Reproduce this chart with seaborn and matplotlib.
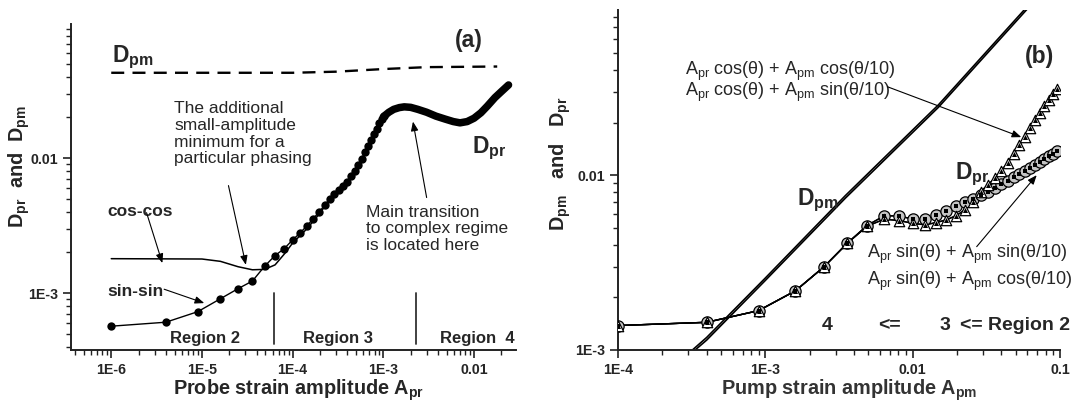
import numpy as np
import pandas as pd
import matplotlib
matplotlib.use("Agg")
import matplotlib.pyplot as plt
from matplotlib.ticker import FixedLocator, FixedFormatter, LogLocator, NullFormatter
import seaborn as sns

# ---------------- data : panel (a) ----------------
probe_sin_x = [1.0e-6, 4.0e-6, 9.0e-6, 1.6e-5, 2.5e-5, 3.6e-5, 4.9e-5, 6.4e-5, 8.1e-5,
               1.0e-4, 1.21e-4, 1.44e-4, 1.69e-4, 1.96e-4, 2.25e-4, 2.56e-4, 2.89e-4,
               3.24e-4, 3.61e-4, 4.0e-4, 4.41e-4, 4.84e-4, 5.29e-4, 5.76e-4, 6.25e-4,
               6.76e-4, 7.29e-4, 7.84e-4, 8.41e-4, 9.0e-4, 9.61e-4, 1.024e-3]
dpr_sin_y = [5.7e-4, 6.1e-4, 7.3e-4, 9.1e-4, 1.08e-3, 1.23e-3, 1.58e-3, 1.9e-3, 2.14e-3,
             2.48e-3, 2.79e-3, 3.16e-3, 3.56e-3, 4.0e-3, 4.46e-3, 5.0e-3, 5.4e-3,
             5.8e-3, 6.2e-3, 6.7e-3, 7.3e-3, 8.0e-3, 8.9e-3, 9.9e-3, 1.1e-2,
             1.22e-2, 1.36e-2, 1.5e-2, 1.65e-2, 1.8e-2, 1.93e-2, 2.04e-2]
probe_dense_x = [1.0e-3, 1.15e-3, 1.3e-3, 1.5e-3, 1.7e-3, 2.0e-3, 2.4e-3, 3.0e-3, 3.8e-3,
                 4.8e-3, 5.9e-3, 7.0e-3, 8.4e-3, 1.0e-2, 1.19e-2, 1.4e-2, 1.7e-2, 2.0e-2, 2.4e-2]
dpr_dense_y = [2.02e-2, 2.18e-2, 2.29e-2, 2.36e-2, 2.39e-2, 2.37e-2, 2.29e-2, 2.18e-2, 2.04e-2,
               1.94e-2, 1.86e-2, 1.82e-2, 1.86e-2, 1.97e-2, 2.16e-2, 2.42e-2, 2.8e-2, 3.1e-2, 3.47e-2]
probe_cos_x = [1.0e-6, 1.0e-5, 1.6e-5, 2.5e-5, 3.6e-5, 4.9e-5, 6.4e-5, 8.1e-5, 1.0e-4,
               1.44e-4, 1.96e-4, 2.56e-4, 3.24e-4]
dpr_cos_y = [1.80e-3, 1.79e-3, 1.72e-3, 1.57e-3, 1.49e-3, 1.50e-3, 1.62e-3, 1.95e-3, 2.35e-3,
             3.0e-3, 3.85e-3, 4.9e-3, 5.8e-3]
probe_dpm_x = [1.0e-6, 1.0e-4, 3.0e-4, 1.0e-3, 3.0e-3, 1.8e-2]
dpm_a_y = [0.0427, 0.0427, 0.0435, 0.0455, 0.047, 0.0475]
region_bounds = [6.3e-5, 2.3e-3]
xticks_a = [1e-6, 1e-5, 1e-4, 1e-3, 1e-2]
xticklabels_a = ["1E-6", "1E-5", "1E-4", "1E-3", "0.01"]
yticks = [1e-3, 1e-2]
yticklabels = ["1E-3", "0.01"]

# ---------------- data : panel (b) ----------------
pump_x = [1.00e-4, 4.00e-4, 9.00e-4, 1.60e-3, 2.50e-3, 3.60e-3, 4.90e-3, 6.40e-3, 8.10e-3,
          1.00e-2, 1.21e-2, 1.44e-2, 1.69e-2, 1.96e-2, 2.25e-2, 2.56e-2, 2.89e-2, 3.24e-2,
          3.61e-2, 4.00e-2, 4.41e-2, 4.84e-2, 5.29e-2, 5.76e-2, 6.25e-2, 6.76e-2, 7.29e-2,
          7.84e-2, 8.41e-2, 9.00e-2, 9.61e-2]
dpr_sinsin = [1.38e-3, 1.44e-3, 1.68e-3, 2.18e-3, 2.99e-3, 4.08e-3, 5.15e-3, 5.85e-3, 5.85e-3,
              5.60e-3, 5.60e-3, 5.90e-3, 6.25e-3, 6.70e-3, 7.05e-3, 7.35e-3, 7.70e-3, 8.05e-3,
              8.45e-3, 8.85e-3, 9.25e-3, 9.70e-3, 1.01e-2, 1.055e-2, 1.10e-2, 1.145e-2, 1.19e-2,
              1.235e-2, 1.28e-2, 1.325e-2, 1.37e-2]
dpr_sincos = [1.38e-3, 1.44e-3, 1.68e-3, 2.18e-3, 2.99e-3, 4.08e-3, 5.15e-3, 5.85e-3, 5.85e-3,
              5.60e-3, 5.60e-3, 5.90e-3, 6.25e-3, 6.70e-3, 7.05e-3, 7.35e-3, 7.70e-3, 8.05e-3,
              8.45e-3, 8.85e-3, 9.25e-3, 9.70e-3, 1.01e-2, 1.055e-2, 1.10e-2, 1.145e-2, 1.19e-2,
              1.235e-2, 1.28e-2, 1.325e-2, 1.37e-2]
dpr_coscos = [1.38e-3, 1.44e-3, 1.68e-3, 2.18e-3, 2.99e-3, 4.08e-3, 5.10e-3, 5.60e-3, 5.50e-3,
              5.30e-3, 5.20e-3, 5.35e-3, 5.55e-3, 5.85e-3, 6.30e-3, 7.05e-3, 8.05e-3, 8.80e-3,
              9.60e-3, 1.06e-2, 1.18e-2, 1.32e-2, 1.48e-2, 1.66e-2, 1.86e-2, 2.06e-2, 2.27e-2,
              2.48e-2, 2.70e-2, 2.90e-2, 3.10e-2]
dpr_cossin = [1.38e-3, 1.44e-3, 1.68e-3, 2.18e-3, 2.99e-3, 4.08e-3, 5.10e-3, 5.60e-3, 5.50e-3,
              5.30e-3, 5.20e-3, 5.35e-3, 5.55e-3, 5.85e-3, 6.30e-3, 7.05e-3, 8.05e-3, 8.80e-3,
              9.60e-3, 1.06e-2, 1.18e-2, 1.32e-2, 1.48e-2, 1.66e-2, 1.86e-2, 2.06e-2, 2.27e-2,
              2.48e-2, 2.70e-2, 2.90e-2, 3.10e-2]
pump_dpm_x = [3.2e-4, 4.0e-4, 1.0e-3, 3.5e-3, 1.5e-2, 6.2e-2, 1.0e-1]
dpm_b_1 = [0.97e-3, 1.14e-3, 2.5e-3, 7.4e-3, 2.45e-2, 9.2e-2, 1.4e-1]
dpm_b_2 = [1.00e-3, 1.18e-3, 2.58e-3, 7.65e-3, 2.53e-2, 9.5e-2, 1.45e-1]
xticks_b = [1e-4, 1e-3, 1e-2, 1e-1]
xticklabels_b = ["1E-4", "1E-3", "0.01", "0.1"]

# ---------------- style ----------------
sns.set_style("ticks")
plt.rcParams["font.family"] = ["Liberation Sans", "DejaVu Sans"]
plt.rcParams["mathtext.fontset"] = "custom"
plt.rcParams["mathtext.rm"] = "Liberation Sans"
plt.rcParams["mathtext.it"] = "Liberation Sans:italic"
plt.rcParams["mathtext.bf"] = "Liberation Sans:bold"

W, H = 1071, 403
fig = plt.figure(figsize=(W / 100, H / 100), dpi=100)
fig.patch.set_facecolor("white")

A_L, A_R, A_T, A_B = 71, 516, 24, 350
B_L, B_R, B_T, B_B = 618, 1060, 10, 350
axA = fig.add_axes([A_L / W, 1 - A_B / H, (A_R - A_L) / W, (A_B - A_T) / H])
axB = fig.add_axes([B_L / W, 1 - B_B / H, (B_R - B_L) / W, (B_B - B_T) / H])


def style_axis(ax, xt, xtl):
    ax.set_xscale("log")
    ax.set_yscale("log")
    ax.set_facecolor("white")
    for s in ["top", "right"]:
        ax.spines[s].set_visible(False)
    for s in ["left", "bottom"]:
        ax.spines[s].set_linewidth(1.4)
        ax.spines[s].set_color("#222222")
    ax.xaxis.set_major_locator(FixedLocator(xt))
    ax.xaxis.set_major_formatter(FixedFormatter(xtl))
    ax.yaxis.set_major_locator(FixedLocator(yticks))
    ax.yaxis.set_major_formatter(FixedFormatter(yticklabels))
    for axis in (ax.xaxis, ax.yaxis):
        axis.set_minor_locator(LogLocator(base=10, subs=np.arange(2, 10), numticks=100))
        axis.set_minor_formatter(NullFormatter())
    ax.tick_params(which="major", direction="out", length=6, width=1.2, color="#222222",
                   labelsize=10.2, pad=3)
    ax.tick_params(which="minor", direction="out", length=3.5, width=1.0, color="#222222")
    for lab in ax.get_xticklabels() + ax.get_yticklabels():
        lab.set_fontweight("bold")


# ---------------- panel (a) ----------------
ax = axA
ax.set_xscale("log")
ax.set_yscale("log")
ax.set_xlim(3.6e-7, 2.9e-2)
ax.set_ylim(3.8e-4, 0.098)

sns.lineplot(x=probe_dpm_x, y=dpm_a_y, ax=ax, color="black", lw=1.7,
             linestyle=(0, (5.5, 3.5)), estimator=None, sort=False)
sns.lineplot(x=probe_cos_x, y=dpr_cos_y, ax=ax, color="black", lw=1.1,
             estimator=None, sort=False)
sns.lineplot(x=probe_sin_x, y=dpr_sin_y, ax=ax, color="black", lw=1.0,
             estimator=None, sort=False)
sns.scatterplot(x=probe_sin_x, y=dpr_sin_y, ax=ax, color="black", s=36,
                edgecolor="black", linewidth=0, zorder=4)
sns.lineplot(x=probe_dense_x, y=dpr_dense_y, ax=ax, color="black", lw=5.4,
             estimator=None, sort=False, solid_capstyle="round", solid_joinstyle="round")
for xb in region_bounds:
    ax.plot([xb, xb], [4.2e-4, 1.0e-3], color="#333333", lw=1.3)

style_axis(ax, xticks_a, xticklabels_a)
ax.set_xlim(3.6e-7, 2.9e-2)
ax.set_ylim(3.8e-4, 0.098)

wa, ha_ = A_R - A_L, A_B - A_T


def fa(px, py):
    return ((px - A_L) / wa, (A_B - py) / ha_)


ax.text(*fa(469, 40), "(a)", transform=ax.transAxes, fontsize=16.5, fontweight="bold",
        ha="center", va="center")
ax.text(*fa(133, 57), r"$\mathbf{D_{pm}}$", transform=ax.transAxes, fontsize=16.5,
        ha="center", va="center")
ax.text(*fa(489, 148), r"$\mathbf{D_{pr}}$", transform=ax.transAxes, fontsize=16.5,
        ha="center", va="center")
ax.text(*fa(174, 101), "The additional\nsmall-amplitude\nminimum for a\nparticular phasing",
        transform=ax.transAxes, fontsize=12.5, ha="left", va="top", linespacing=1.15)
ax.text(*fa(366, 205), "Main transition\nto complex regime\nis located here",
        transform=ax.transAxes, fontsize=12.5, ha="left", va="top", linespacing=1.12)
ax.text(*fa(107, 212), "cos-cos", transform=ax.transAxes, fontsize=12.5,
        fontweight="bold", ha="left", va="center")
ax.text(*fa(107, 292), "sin-sin", transform=ax.transAxes, fontsize=12.5,
        fontweight="bold", ha="left", va="center")
for label, px in [("Region 2", 205), ("Region 3", 338), ("Region  4", 477)]:
    ax.text(*fa(px, 339), label, transform=ax.transAxes, fontsize=12,
            fontweight="bold", ha="center", va="center")

arrow = dict(arrowstyle="-|>,head_length=0.55,head_width=0.22", color="black", lw=0.8,
             shrinkA=0, shrinkB=0)
ax.annotate("", xy=(3.05e-5, 1.62e-3), xytext=(1.96e-5, 6.25e-3), arrowprops=arrow)
ax.annotate("", xy=(3.66e-6, 1.67e-3), xytext=(2.45e-6, 3.94e-3), arrowprops=arrow)
ax.annotate("", xy=(1.06e-5, 8.45e-4), xytext=(3.83e-6, 1.07e-3), arrowprops=arrow)
ax.annotate("", xy=(2.12e-3, 0.0186), xytext=(3.0e-3, 5.1e-3), arrowprops=arrow)

ax.set_xlabel(r"Probe strain amplitude A$_{\mathbf{pr}}$", fontsize=14.3, fontweight="bold")
ax.xaxis.set_label_coords((299 - A_L) / wa, -(390 - A_B) / ha_)
ax.xaxis.label.set_va("center")
ax.set_ylabel(r"$\mathbf{D_{pr}}$  and  $\mathbf{D_{pm}}$", fontsize=14.3, fontweight="bold")
ax.yaxis.set_label_coords((19 - A_L) / wa, (A_B - 167) / ha_)
ax.yaxis.label.set_va("center")

# ---------------- panel (b) ----------------
ax = axB
ax.set_xscale("log")
ax.set_yscale("log")
ax.set_xlim(1e-4, 1e-1)
ax.set_ylim(1e-3, 0.088)

sns.lineplot(x=pump_dpm_x, y=dpm_b_1, ax=ax, color="black", lw=1.2, estimator=None, sort=False)
sns.lineplot(x=pump_dpm_x, y=dpm_b_2, ax=ax, color="black", lw=1.2, estimator=None, sort=False)

for ys in (dpr_coscos, dpr_cossin, dpr_sinsin, dpr_sincos):
    sns.lineplot(x=pump_x, y=ys, ax=ax, color="black", lw=1.0, estimator=None, sort=False,
                 zorder=2)
sns.scatterplot(x=pump_x, y=dpr_sinsin, ax=ax, marker="o", s=66, facecolor="#c4c4c4",
                edgecolor="black", linewidth=0.9, zorder=3)
sns.scatterplot(x=pump_x, y=dpr_sincos, ax=ax, marker="s", s=12, color="black",
                edgecolor="black", linewidth=0, zorder=4)
sns.scatterplot(x=pump_x, y=dpr_coscos, ax=ax, marker="^", s=56, facecolor="white",
                edgecolor="black", linewidth=0.9, zorder=3)
sns.scatterplot(x=pump_x, y=dpr_cossin, ax=ax, marker="^", s=13, color="black",
                edgecolor="black", linewidth=0, zorder=4)

style_axis(ax, xticks_b, xticklabels_b)
ax.set_xlim(1e-4, 1e-1)
ax.set_ylim(1e-3, 0.088)

wb, hb = B_R - B_L, B_B - B_T


def fb(px, py):
    return ((px - B_L) / wb, (B_B - py) / hb)


ax.text(*fb(1040, 57), "(b)", transform=ax.transAxes, fontsize=16.5, fontweight="bold",
        ha="center", va="center")
ax.text(*fb(685, 75), r"A$_{\mathrm{pr}}$ cos(θ) + A$_{\mathrm{pm}}$ cos(θ/10)",
        transform=ax.transAxes, fontsize=13, ha="left", va="baseline")
ax.text(*fb(685, 96), r"A$_{\mathrm{pr}}$ cos(θ) + A$_{\mathrm{pm}}$ sin(θ/10)",
        transform=ax.transAxes, fontsize=13, ha="left", va="baseline")
ax.text(*fb(867, 258), r"A$_{\mathrm{pr}}$ sin(θ) + A$_{\mathrm{pm}}$ sin(θ/10)",
        transform=ax.transAxes, fontsize=13, ha="left", va="baseline", clip_on=False)
ax.text(*fb(867, 285), r"A$_{\mathrm{pr}}$ sin(θ) + A$_{\mathrm{pm}}$ cos(θ/10)",
        transform=ax.transAxes, fontsize=13, ha="left", va="baseline", clip_on=False)
ax.text(*fb(955, 179), r"$\mathbf{D_{pr}}$", transform=ax.transAxes, fontsize=16.5,
        ha="left", va="baseline")
ax.text(*fb(797, 205), r"$\mathbf{D_{pm}}$", transform=ax.transAxes, fontsize=16.5,
        ha="left", va="baseline")
for label, px, ha in [("4", 827, "center"), ("<=", 889, "center"), ("3", 945, "center"),
                      ("<= Region 2", 960, "left")]:
    ax.text(*fb(px, 326), label, transform=ax.transAxes, fontsize=14, fontweight="bold",
            ha=ha, va="center", clip_on=False)

ax.annotate("", xy=(0.0546, 0.0165), xytext=(6.76e-3, 0.032), arrowprops=arrow)
ax.annotate("", xy=(0.0695, 0.0100), xytext=(0.0272, 3.9e-3), arrowprops=arrow)

ax.set_xlabel(r"Pump strain amplitude A$_{\mathbf{pm}}$", fontsize=14.3, fontweight="bold",
              color="#333333")
ax.xaxis.set_label_coords((849 - B_L) / wb, -(390 - B_B) / hb)
ax.xaxis.label.set_va("center")
ax.set_ylabel(r"$\mathbf{D_{pm}}$   and   $\mathbf{D_{pr}}$", fontsize=14.3,
              fontweight="bold")
ax.yaxis.set_label_coords((560 - B_L) / wb, (B_B - 164) / hb)
ax.yaxis.label.set_va("center")

fig.savefig("out.png", dpi=100, facecolor="white")
